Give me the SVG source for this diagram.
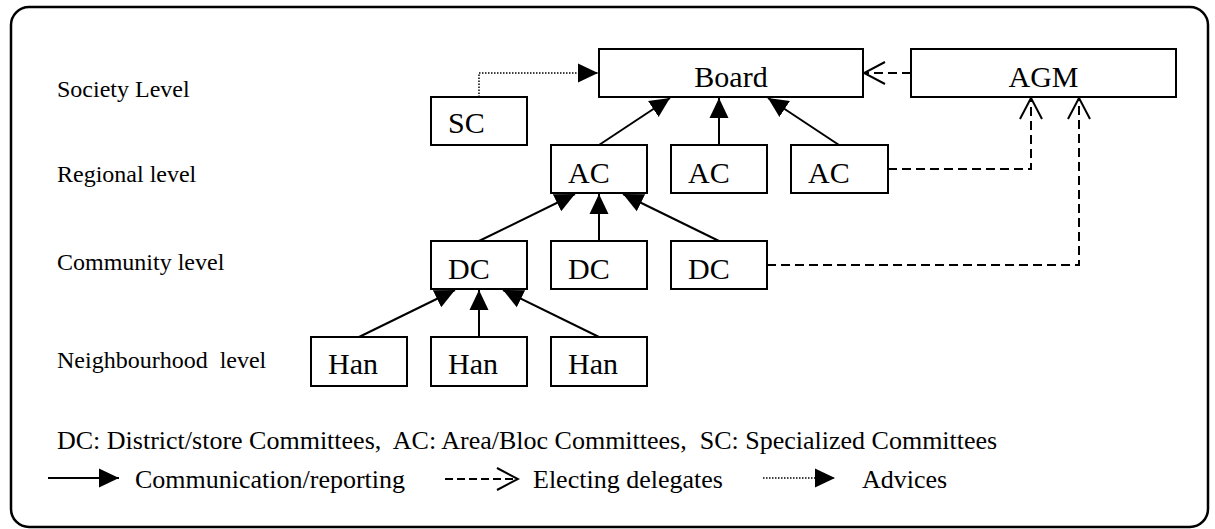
<svg xmlns="http://www.w3.org/2000/svg" width="1215" height="529" viewBox="0 0 1215 529">
<style>
.frame{fill:#fff;stroke:#000;stroke-width:2.5}
.box{fill:#fff;stroke:#000;stroke-width:2}
.lvl{font-size:24px;fill:#000;white-space:pre}
.nt{font-size:30px;fill:#000}
.lg{font-size:26px;fill:#000;white-space:pre}
.solid{fill:none;stroke:#000;stroke-width:2}
.dash{fill:none;stroke:#000;stroke-width:2;stroke-dasharray:9 5}
.dot{fill:none;stroke:#000;stroke-width:1.5;stroke-dasharray:1.5 1.5}
</style>
<defs>
<marker id="tri" markerUnits="userSpaceOnUse" markerWidth="20" markerHeight="20" refX="20" refY="10" orient="auto" viewBox="0 0 20 20">
<path d="M0,0.5 L20,10 L0,19.5 z" fill="#000"/>
</marker>
<marker id="open" markerUnits="userSpaceOnUse" markerWidth="24" markerHeight="24" refX="22" refY="12" orient="auto" viewBox="0 0 24 24">
<path d="M1,1 L22,12 L1,23" fill="none" stroke="#000" stroke-width="2"/>
</marker>
</defs>
<rect class="frame" x="11" y="7" width="1197" height="520" rx="18" ry="18"/>
<g id="level-labels" font-family="Liberation Serif, Times New Roman, serif">
<text class="lvl" x="57" y="97">Society Level</text>
<text class="lvl" x="57" y="182">Regional level</text>
<text class="lvl" x="57" y="270">Community level</text>
<text class="lvl" x="57" y="368">Neighbourhood  level</text>
</g>
<g id="connectors">
<line class="solid" x1="599" y1="145" x2="670" y2="98" marker-end="url(#tri)"/>
<line class="solid" x1="719" y1="145" x2="719" y2="98" marker-end="url(#tri)"/>
<line class="solid" x1="839" y1="145" x2="768" y2="98" marker-end="url(#tri)"/>
<line class="solid" x1="479" y1="241" x2="575" y2="194" marker-end="url(#tri)"/>
<line class="solid" x1="599" y1="241" x2="599" y2="194" marker-end="url(#tri)"/>
<line class="solid" x1="719" y1="241" x2="623" y2="194" marker-end="url(#tri)"/>
<line class="solid" x1="359" y1="337" x2="455" y2="290" marker-end="url(#tri)"/>
<line class="solid" x1="479" y1="337" x2="479" y2="290" marker-end="url(#tri)"/>
<line class="solid" x1="599" y1="337" x2="503" y2="290" marker-end="url(#tri)"/>
<polyline class="dot" points="479,97 479,73 598,73" marker-end="url(#tri)"/>
<line class="dash" x1="911" y1="73" x2="864" y2="73" marker-end="url(#open)"/>
<polyline class="dash" points="888,169 1031,169 1031,98" marker-end="url(#open)"/>
<polyline class="dash" points="767,265 1079,265 1079,98" marker-end="url(#open)"/>
</g>
<g font-family="Liberation Serif, Times New Roman, serif">
<g id="node-board"><rect class="box" x="599" y="49" width="264" height="48"/><text class="nt" x="731" y="87" text-anchor="middle">Board</text></g>
<g id="node-agm"><rect class="box" x="911" y="49" width="265" height="48"/><text class="nt" x="1043.5" y="87" text-anchor="middle">AGM</text></g>
<g id="node-sc"><rect class="box" x="431" y="97" width="96" height="48"/><text class="nt" x="448" y="133">SC</text></g>
<g id="node-ac1"><rect class="box" x="551" y="145" width="96" height="48"/><text class="nt" x="568" y="183">AC</text></g>
<g id="node-ac2"><rect class="box" x="671" y="145" width="96" height="48"/><text class="nt" x="688" y="183">AC</text></g>
<g id="node-ac3"><rect class="box" x="791" y="145" width="97" height="48"/><text class="nt" x="808" y="183">AC</text></g>
<g id="node-dc1"><rect class="box" x="431" y="241" width="96" height="48"/><text class="nt" x="448" y="279">DC</text></g>
<g id="node-dc2"><rect class="box" x="551" y="241" width="96" height="48"/><text class="nt" x="568" y="279">DC</text></g>
<g id="node-dc3"><rect class="box" x="671" y="241" width="96" height="48"/><text class="nt" x="688" y="279">DC</text></g>
<g id="node-han1"><rect class="box" x="311" y="337" width="96" height="49"/><text class="nt" x="328" y="374">Han</text></g>
<g id="node-han2"><rect class="box" x="431" y="337" width="96" height="49"/><text class="nt" x="448" y="374">Han</text></g>
<g id="node-han3"><rect class="box" x="551" y="337" width="96" height="49"/><text class="nt" x="568" y="374">Han</text></g>
</g>
<g id="legend" font-family="Liberation Serif, Times New Roman, serif">
<text class="lg" x="57" y="449">DC: District/store Committees,  AC: Area/Bloc Committees,  SC: Specialized Committees</text>
<line class="solid" x1="48" y1="478" x2="119" y2="478" marker-end="url(#tri)"/>
<text class="lg" x="135" y="488">Communication/reporting</text>
<line x1="445" y1="479" x2="518" y2="479" fill="none" stroke="#000" stroke-width="2" stroke-dasharray="8 4" marker-end="url(#open)"/>
<text class="lg" x="533" y="488">Electing delegates</text>
<line class="dot" x1="763" y1="478" x2="835" y2="478" marker-end="url(#tri)"/>
<text class="lg" x="862" y="488">Advices</text>
</g>
</svg>
